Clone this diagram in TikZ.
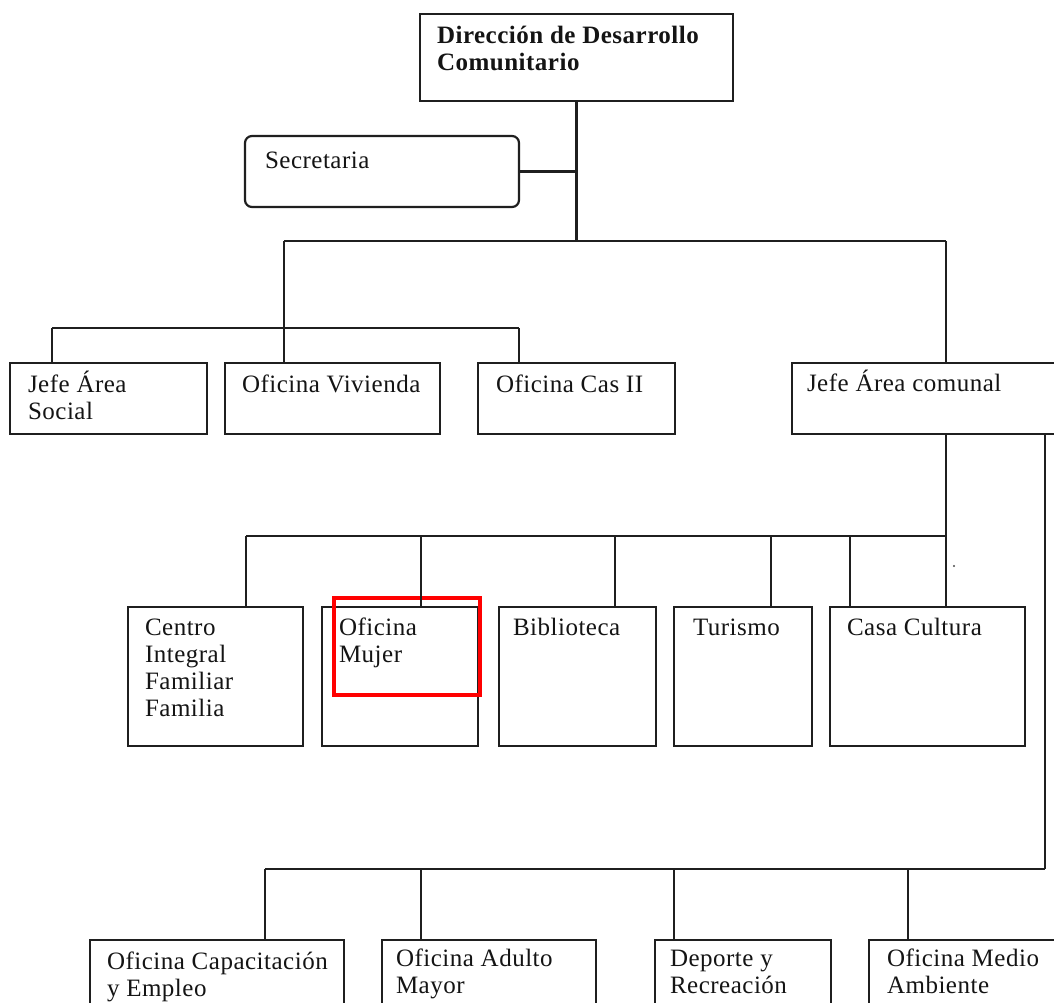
\documentclass[tikz,border=0pt]{standalone}
\usepackage{fontspec}
\setmainfont{Liberation Serif}[LetterSpace=2]
\tikzset{
  ln/.style={line width=2.2pt, draw=black!88},
  bx/.style={ln, rectangle, anchor=north west, inner sep=0pt, outer sep=0pt, fill=none},
  txt/.style={anchor=north west, inner sep=0pt, outer sep=0pt, align=left,
    font=\fontsize{25}{27}\selectfont, text=black!92},
  hl/.style={draw=red, line width=4pt, rectangle, anchor=north west, inner sep=0pt}
}
\newcommand{\boxtext}[4]{\node[txt] at ([shift={(#2,#3-24)}]#1.north west) {\rule{0pt}{24pt}#4};}
\begin{document}
\begin{tikzpicture}[x=1pt,y=-1pt]
\useasboundingbox (0,0) rectangle (1054,1002);
\clip (0,0) rectangle (1054,1002);
\fill[white] (0,0) rectangle (1054,1002);

% boxes
\node[bx, minimum width=313, minimum height=87] (dir) at (420,14) {};
\node[bx, rounded corners=7pt, minimum width=274, minimum height=71] (sec) at (245,136) {};
\node[bx, minimum width=197, minimum height=71] (jas) at (10,363) {};
\node[bx, minimum width=215, minimum height=71] (viv) at (225,363) {};
\node[bx, minimum width=197, minimum height=71] (cas) at (478,363) {};
\node[bx, minimum width=268, minimum height=71] (jac) at (792,363) {};
\node[bx, minimum width=175, minimum height=139] (cif) at (128,607) {};
\node[bx, minimum width=156, minimum height=139] (muj) at (322,607) {};
\node[bx, minimum width=157, minimum height=139] (bib) at (499,607) {};
\node[bx, minimum width=138, minimum height=139] (tur) at (674,607) {};
\node[bx, minimum width=195, minimum height=139] (ccu) at (830,607) {};
\node[bx, minimum width=254, minimum height=80] (cap) at (90,940) {};
\node[bx, minimum width=214, minimum height=80] (adu) at (382,940) {};
\node[bx, minimum width=176, minimum height=80] (dep) at (655,940) {};
\node[bx, minimum width=191, minimum height=80] (med) at (869,940) {};

% texts
\boxtext{dir}{17}{29}{\bfseries Dirección de Desarrollo\\\bfseries Comunitario}
\boxtext{sec}{20}{32}{Secretaria}
\boxtext{jas}{18}{29}{Jefe Área\\Social}
\boxtext{viv}{17}{29}{Oficina Vivienda}
\boxtext{cas}{18}{29}{Oficina Cas II}
\boxtext{jac}{15}{28}{Jefe Área comunal}
\boxtext{cif}{17}{28}{Centro\\Integral\\Familiar\\Familia}
\boxtext{muj}{17}{28}{Oficina\\Mujer}
\boxtext{bib}{14}{28}{Biblioteca}
\boxtext{tur}{19}{28}{Turismo}
\boxtext{ccu}{17}{28}{Casa Cultura}
\boxtext{cap}{17}{29}{Oficina Capacitación\\y Empleo}
\boxtext{adu}{14}{26}{Oficina Adulto\\Mayor}
\boxtext{dep}{15}{26}{Deporte y\\Recreación}
\boxtext{med}{18}{26}{Oficina Medio\\Ambiente}

% highlight
\node[hl, minimum width=146, minimum height=97] (hlr) at (332,596) {};

% junction coordinates
\coordinate (aL) at (284,241);
\coordinate (aR) at (946,241);
\coordinate (bL) at (52,328);
\coordinate (bR) at (519,328);
\coordinate (cL) at (246,536);
\coordinate (cM) at (421,536);
\coordinate (cB) at (615,536);
\coordinate (cT) at (771,536);
\coordinate (cC) at (850,536);
\coordinate (cR) at (946,536);
\coordinate (dL) at (265,869);
\coordinate (dM) at (421,869);
\coordinate (dD) at (674,869);
\coordinate (dE) at (908,869);
\coordinate (dR) at (1045,869);

% connectors
\draw[ln] (dir.south) -- (dir.south |- aL);
\draw[ln] (sec.east) -- (sec.east -| dir.south);
\draw[ln] (aL) -- (aR);
\draw[ln] (aR) -- (aR |- jac.north);
\draw[ln] (aL) -- (aL |- viv.north);
\draw[ln] (bL) -- (bR);
\draw[ln] (bL) -- (bL |- jas.north);
\draw[ln] (bR) -- (bR |- cas.north);

\draw[ln] (cR |- jac.south) -- (cR |- ccu.north);
\draw[ln] (cL) -- (cR);
\draw[ln] (cL) -- (cL |- cif.north);
\draw[ln] (cM) -- (cM |- muj.north);
\draw[ln] (cB) -- (cB |- bib.north);
\draw[ln] (cT) -- (cT |- tur.north);
\draw[ln] (cC) -- (cC |- ccu.north);

\draw[ln] (dR |- jac.south) -- (dR);
\draw[ln] (dL) -- (dR);
\draw[ln] (dL) -- (dL |- cap.north);
\draw[ln] (dM) -- (dM |- adu.north);
\draw[ln] (dD) -- (dD |- dep.north);
\draw[ln] (dE) -- (dE |- med.north);

\fill[black!70] (954,566) circle (1.2);
\end{tikzpicture}
\end{document}
